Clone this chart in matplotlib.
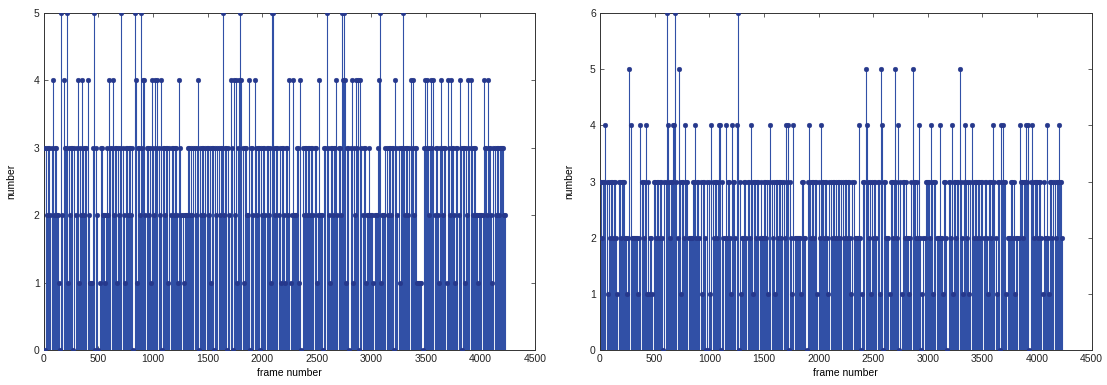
import numpy as np
import matplotlib
matplotlib.use("Agg")
import matplotlib.pyplot as plt

plt.rcParams["font.family"] = ["Liberation Sans", "DejaVu Sans"]

# Number of objects per frame, one digit per sampled frame (every 10 frames).
FRAME_STEP = 10

left_counts_text = (
    "3032332342" "3322105243" "3513233032" "3413243233" "4211135032"
    "0133221232" "4334233132" "3532133233" "2305413325" "3442332314"
    "3243432403" "3233132332" "3321432212" "2233232332" "3403233233"
    "3231330323" "3233523303" "2430424134" "5431332240" "3324323303"
    "2332332315" "5323323133" "2133241242" "2233140323" "3233233233"
    "1242220335" "3213323342" "3325454133" "0341324340" "4323312232"
    "2212223451" "2223323323" "3043231335" "3233234342" "3311111034"
    "3432343423" "3213432331" "4324332133" "2430331324" "3432332212"
    "2224332433" "2133233233" "3322"
)

right_counts_text = (
    "3323343132" "3323321332" "3332212542" "2222212433" "2341312213"
    "3233233203" "3643233446" "3253133243" "3222233423" "3231332030"
    "3143233234" "4032242332" "1433246031" "2233233243" "1332332322"
    "3323134323" "1332332332" "4340321422" "2222133220" "3432332331"
    "3243323321" "3323323233" "2332332332" "1332222420" "1335432313"
    "2332331540" "3322213323" "5324031332" "3221235332" "3242012233"
    "3324313322" "2422133203" "3241332335" "3213432313" "4323323323"
    "3233213323" "4321330434" "3312223323" "1222433233" "4340343233"
    "3233213224" "2133233233" "4332"
)

left_counts = np.array([int(c) for c in left_counts_text])
right_counts = np.array([int(c) for c in right_counts_text])
left_frames = np.arange(len(left_counts)) * FRAME_STEP
right_frames = np.arange(len(right_counts)) * FRAME_STEP

x_ticks = [0, 500, 1000, 1500, 2000, 2500, 3000, 3500, 4000, 4500]
left_y_ticks = [0, 1, 2, 3, 4, 5]
right_y_ticks = [0, 1, 2, 3, 4, 5, 6]

STEM_COLOR = "#3150a6"
MARK_COLOR = "#26388c"

fig = plt.figure(figsize=(11.07, 3.85), dpi=100)
ax_l = fig.add_axes([0.0397, 0.0909, 0.4435, 0.8753])
ax_r = fig.add_axes([0.5420, 0.0909, 0.4442, 0.8753])


def draw_stems(ax, frames, counts, yticks, ylabel_x):
    cont = ax.stem(frames, counts, basefmt=" ")
    cont.stemlines.set_color(STEM_COLOR)
    cont.stemlines.set_linewidth(0.8)
    cont.markerline.set_color(MARK_COLOR)
    cont.markerline.set_markersize(3.4)
    cont.markerline.set_markeredgewidth(0.3)
    cont.markerline.set_zorder(3)
    ax.set_xlim(0, 4500)
    ax.set_ylim(0, yticks[-1])
    ax.set_xticks(x_ticks)
    ax.set_yticks(yticks)
    ax.tick_params(direction="in", top=True, right=True, length=3,
                   width=0.5, labelsize=7.5, pad=3, colors="#222222")
    for sp in ax.spines.values():
        sp.set_linewidth(0.7)
        sp.set_color("#333333")
    ax.set_xlabel("frame number", fontsize=7.5, labelpad=3)
    ax.set_ylabel("number", fontsize=7.5)
    ax.yaxis.set_label_coords(ylabel_x, 0.5)


draw_stems(ax_l, left_frames, left_counts, left_y_ticks, -0.056)
draw_stems(ax_r, right_frames, right_counts, right_y_ticks, -0.052)

fig.savefig("out.png", dpi=100)
